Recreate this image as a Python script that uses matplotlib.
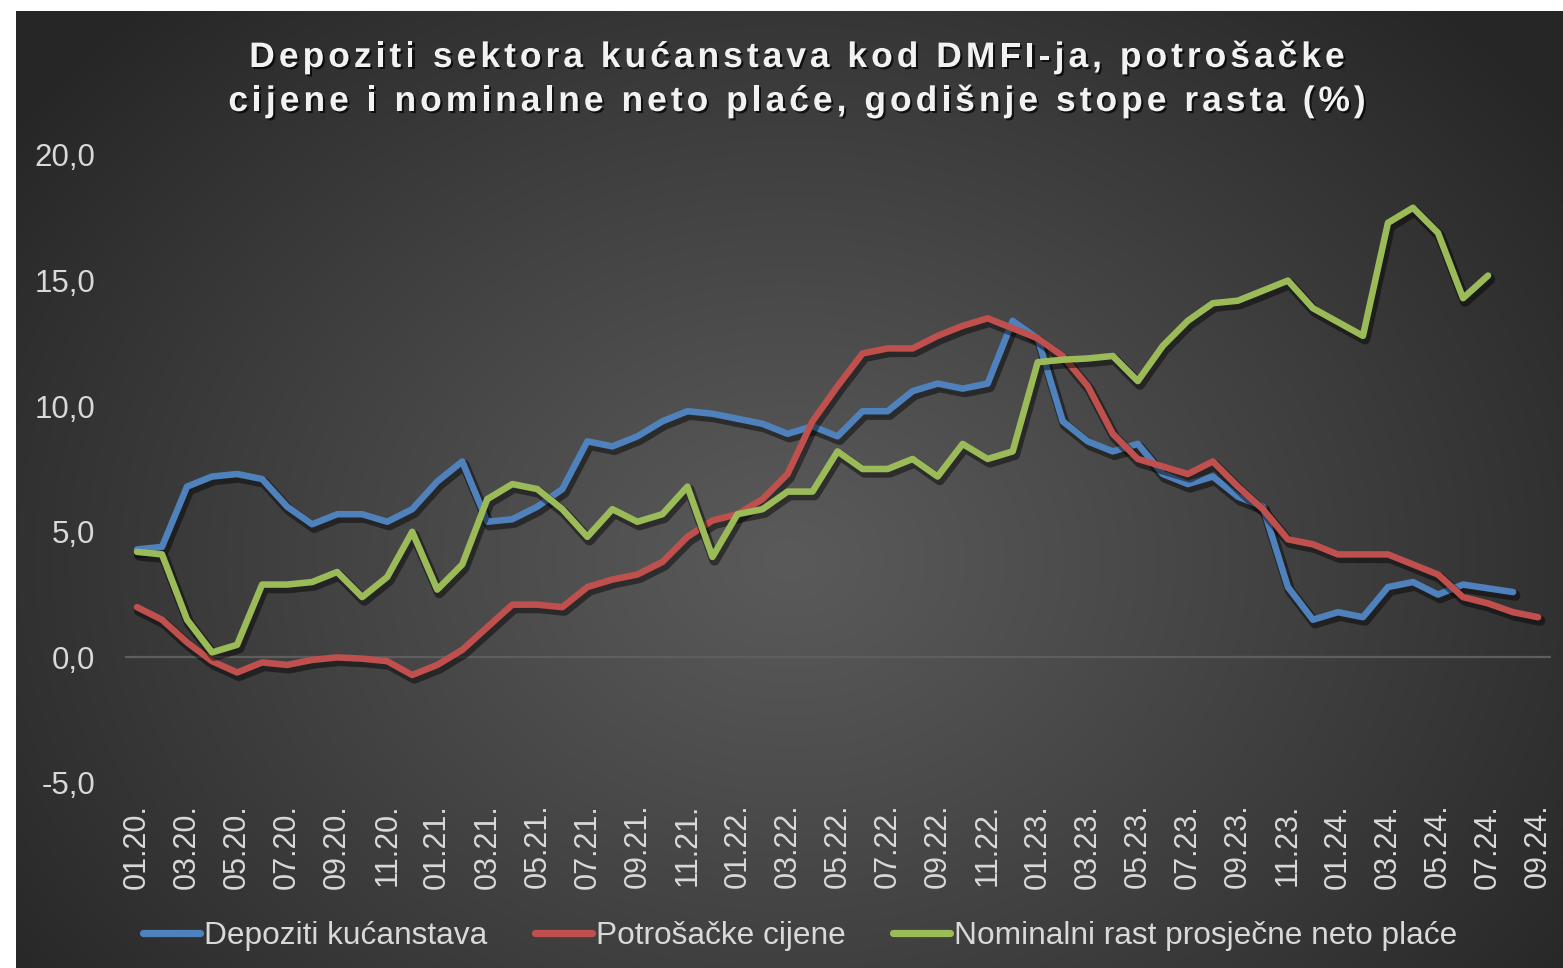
import numpy as np
import matplotlib
matplotlib.use("Agg")
import matplotlib.pyplot as plt
import matplotlib.patheffects as pe
from matplotlib.font_manager import FontProperties

# ---------------- data ----------------
tick_labels = ["01.20.", "03.20.", "05.20.", "07.20.", "09.20.", "11.20.",
               "01.21.", "03.21.", "05.21.", "07.21.", "09.21.", "11.21.",
               "01.22.", "03.22.", "05.22.", "07.22.", "09.22.", "11.22.",
               "01.23.", "03.23.", "05.23.", "07.23.", "09.23.", "11.23.",
               "01.24.", "03.24.", "05.24.", "07.24.", "09.24."]

depoziti = [4.3, 4.4, 6.8, 7.2, 7.3, 7.1, 6.0, 5.3, 5.7, 5.7,
            5.4, 5.9, 7.0, 7.8, 5.4, 5.5, 6.0, 6.7, 8.6, 8.4,
            8.8, 9.4, 9.8, 9.7, 9.5, 9.3, 8.9, 9.2, 8.8, 9.8,
            9.8, 10.6, 10.9, 10.7, 10.9, 13.4, 12.7, 9.4, 8.6, 8.2,
            8.5, 7.3, 6.9, 7.2, 6.4, 6.0, 2.8, 1.5, 1.8, 1.6,
            2.8, 3.0, 2.5, 2.9, 2.75, 2.6]

cijene = [2.0, 1.5, 0.6, -0.15, -0.6, -0.2, -0.3, -0.1, 0.0, -0.05,
          -0.15, -0.7, -0.3, 0.3, 1.2, 2.1, 2.1, 2.0, 2.8, 3.1,
          3.3, 3.8, 4.8, 5.45, 5.7, 6.3, 7.3, 9.4, 10.8, 12.1,
          12.3, 12.3, 12.8, 13.2, 13.5, 13.1, 12.7, 12.0, 10.8, 8.9,
          7.9, 7.6, 7.3, 7.8, 6.8, 5.9, 4.7, 4.5, 4.1, 4.1,
          4.1, 3.7, 3.3, 2.4, 2.15, 1.8, 1.6]

place = [4.2, 4.1, 1.5, 0.2, 0.5, 2.9, 2.9, 3.0, 3.4, 2.4,
         3.2, 5.0, 2.7, 3.7, 6.3, 6.9, 6.7, 5.9, 4.8, 5.9,
         5.4, 5.7, 6.8, 4.0, 5.7, 5.9, 6.6, 6.6, 8.2, 7.5,
         7.5, 7.9, 7.2, 8.5, 7.9, 8.2, 11.75, 11.85, 11.9, 12.0,
         11.0, 12.4, 13.4, 14.1, 14.2, 14.6, 15.0, 13.9, 13.35, 12.8,
         17.3, 17.9, 16.9, 14.3, 15.2]

series_names = ["Depoziti kućanstava", "Potrošačke cijene",
                "Nominalni rast prosječne neto plaće"]
series_colors = ["#4f81bd", "#c0504d", "#9bbb59"]

title_lines = ["Depoziti sektora kućanstava kod DMFI-ja, potrošačke",
               "cijene i nominalne neto plaće, godišnje stope rasta (%)"]

yticks = [-5, 0, 5, 10, 15, 20]

# ---------------- figure ----------------
W, H = 1563, 968
DPI = 100
fig = plt.figure(figsize=(W / DPI, H / DPI), dpi=DPI, facecolor="white")

# radial gradient background
bg = fig.add_axes([16 / W, 0, 1 - 16 / W, 1 - 11 / H], zorder=-10)
bw, bh = W - 16, H - 11
yy, xx = np.mgrid[0:bh, 0:bw]
cx, cy = 790 - 16, 560 - 11
r = np.sqrt(((xx - cx) / (bw * 0.62)) ** 2 + ((yy - cy) / (bh * 0.80)) ** 2)
r = np.clip(r, 0, 1)
c_in = np.array([0x5a, 0x5a, 0x5a]) / 255
c_out = np.array([0x26, 0x26, 0x26]) / 255
t = r[..., None] ** 1.1
img = c_in * (1 - t) + c_out * t
bg.imshow(img, aspect="auto", interpolation="bilinear")
bg.set_axis_off()

# main axes
left, right = 124.5 / W, 1550.6 / W
bottom, top = 1 - 783 / H, 1 - 155 / H
ax = fig.add_axes([left, bottom, right - left, top - bottom])
ax.set_facecolor("none")
for s in ax.spines.values():
    s.set_visible(False)

n = len(cijene)
x_all = np.arange(n)
data = [depoziti, cijene, place]
shadow = [pe.SimpleLineShadow(offset=(1.5, -2.5), shadow_color="black",
                              alpha=0.45, linewidth=7.5),
          pe.Normal()]
for vals, name, col in zip(data, series_names, series_colors):
    ax.plot(x_all[:len(vals)], vals, color=col, lw=4.7, label=name,
            solid_capstyle="round", solid_joinstyle="round",
            path_effects=shadow, zorder=3)

ax.axhline(0, color="#5e5e5e", lw=1.6, zorder=1)

ax.set_xlim(-0.5, n - 0.5)
ax.set_ylim(-5, 20)
ax.set_yticks(yticks)
ax.set_yticklabels([f"{v:.1f}".replace(".", ",") for v in yticks])
ax.set_xticks(np.arange(0, n, 2))
ax.set_xticklabels(tick_labels, rotation=90)

lab_col = "#d9d9d9"
font = "Liberation Sans"
ax.tick_params(axis="y", length=0, pad=21, labelsize=22.5, labelcolor=lab_col)
ax.tick_params(axis="x", length=0, pad=15, labelsize=22, labelcolor=lab_col)
for lb in ax.get_xticklabels() + ax.get_yticklabels():
    lb.set_fontfamily(font)

# legend
handles, labels = ax.get_legend_handles_labels()
leg = fig.legend(handles, labels, loc="center", bbox_to_anchor=(800 / W, 1 - 936 / H),
                 ncol=3, frameon=False, handlelength=1.8, handletextpad=0.12,
                 columnspacing=1.5, prop=FontProperties(family=font, size=22.8))
for txt in leg.get_texts():
    txt.set_color(lab_col)
for h in leg.legend_handles:
    h.set_linewidth(5.2)
    h.set_solid_capstyle("round")
    h.set_path_effects([])

# title with letter spacing
fig.canvas.draw()
renderer = fig.canvas.get_renderer()
tprop = FontProperties(family=font, weight="bold", size=25.5)
spacing = 4.0  # px between letters
baselines = [67, 111]
tcenter = 797
for line, base in zip(title_lines, baselines):
    widths = [0]
    for k in range(1, len(line) + 1):
        w, _, _ = renderer.get_text_width_height_descent(line[:k], tprop, ismath=False)
        widths.append(w)
    total = widths[-1] + spacing * (len(line) - 1)
    x0 = tcenter - total / 2
    for k, ch in enumerate(line):
        if ch == " ":
            continue
        xp = x0 + widths[k] + spacing * k
        fig.text(xp / W, 1 - base / H, ch, fontproperties=tprop, color="#f2f2f2",
                 ha="left", va="baseline",
                 path_effects=[pe.withSimplePatchShadow(offset=(1.5, -1.5),
                                                        shadow_rgbFace="black",
                                                        alpha=0.7)])

fig.savefig("out.png", dpi=DPI, facecolor="white")
